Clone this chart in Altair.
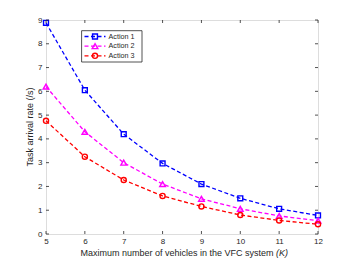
import altair as alt
import pandas as pd

K = [5, 6, 7, 8, 9, 10, 11, 12]
action1 = [8.88, 6.05, 4.20, 2.97, 2.10, 1.50, 1.06, 0.78]
action2 = [6.20, 4.30, 3.00, 2.10, 1.48, 1.06, 0.76, 0.56]
action3 = [4.76, 3.25, 2.27, 1.60, 1.16, 0.80, 0.57, 0.41]
series_names = ["Action 1", "Action 2", "Action 3"]
series_colors = ["#0000FF", "#FF00FF", "#FF0000"]
series_shapes = ["square", "triangle-up", "circle"]
x_ticks = [5, 6, 7, 8, 9, 10, 11, 12]
y_ticks = [0, 1, 2, 3, 4, 5, 6, 7, 8, 9]
x_title = "Maximum number of vehicles in the VFC system"
x_title_var = "(K)"
y_title = "Task arrival rate (/s)"

W, H = 272, 214
FONT = "Liberation Sans"
AX = "#262626"

rows = []
for name, vals in zip(series_names, [action1, action2, action3]):
    for k, v in zip(K, vals):
        rows.append({"K": k, "rate": v, "series": name})
df = pd.DataFrame(rows)

xs = alt.Scale(domain=[5, 12], nice=False, zero=False)
ys = alt.Scale(domain=[0, 9], nice=False, zero=True)

axis_common = dict(title=None, ticks=False, tickSize=0, domain=False, grid=False,
                   labelFont=FONT, labelFontSize=8, labelColor=AX, labelOverlap=False,
                   labelFlush=False, format="d")
x_axis = alt.Axis(values=x_ticks, labelPadding=3, **axis_common)
y_axis = alt.Axis(values=y_ticks, labelPadding=4, **axis_common)


def X():
    return alt.X("K:Q", scale=xs, axis=x_axis)


def Y():
    return alt.Y("rate:Q", scale=ys, axis=y_axis)


base = alt.Chart(df)
layers = []

MSIZE = {"square": 24, "triangle-up": 32, "circle": 26}

for name, color, shape in zip(series_names, series_colors, series_shapes):
    sub = base.transform_filter(alt.datum.series == name)
    layers.append(sub.mark_line(color=color, strokeWidth=1.3, strokeDash=[4, 2.5]).encode(x=X(), y=Y()))
    layers.append(sub.mark_point(color=color, shape=shape, filled=False, strokeWidth=1.4,
                                 size=MSIZE[shape], opacity=1).encode(x=X(), y=Y()))

# inward ticks
xt = alt.Chart(pd.DataFrame({"K": x_ticks}))
yt = alt.Chart(pd.DataFrame({"rate": y_ticks}))
layers.append(xt.mark_rule(color=AX, strokeWidth=0.8).encode(
    x=X(), y=alt.value(H), y2=alt.value(H - 3)))
layers.append(xt.mark_rule(color=AX, strokeWidth=0.8).encode(
    x=X(), y=alt.value(0), y2=alt.value(3)))
layers.append(yt.mark_rule(color=AX, strokeWidth=0.8).encode(
    y=Y(), x=alt.value(0), x2=alt.value(3)))
layers.append(yt.mark_rule(color=AX, strokeWidth=0.8).encode(
    y=Y(), x=alt.value(W), x2=alt.value(W - 3)))

# titles
layers.append(alt.Chart(pd.DataFrame({"t": [x_title]})).mark_text(
    font=FONT, fontSize=9, color=AX, align="right", baseline="alphabetic").encode(
    text="t:N", x=alt.value(227.5), y=alt.value(236)))
layers.append(alt.Chart(pd.DataFrame({"t": [x_title_var]})).mark_text(
    font=FONT, fontSize=9, color=AX, fontStyle="italic", align="left", baseline="alphabetic").encode(
    text="t:N", x=alt.value(230), y=alt.value(236)))
layers.append(alt.Chart(pd.DataFrame({"t": [y_title]})).mark_text(
    font=FONT, fontSize=9, color=AX, angle=270, align="center", baseline="middle").encode(
    text="t:N", x=alt.value(-16), y=alt.value(H / 2)))

# legend
lx0, lx1, ly0, ly1 = 35.6, 96, 10.7, 42
layers.append(alt.Chart(pd.DataFrame({"a": [0]})).mark_rect(
    fill="white", stroke=AX, strokeWidth=0.8).encode(
    x=alt.value(lx0), x2=alt.value(lx1), y=alt.value(ly0), y2=alt.value(ly1)))
row_y = [16.5, 26.2, 35.8]
for name, color, shape, yy in zip(series_names, series_colors, series_shapes, row_y):
    one = alt.Chart(pd.DataFrame({"t": [name]}))
    layers.append(one.mark_rule(color=color, strokeWidth=1.3, strokeDash=[4, 2.5]).encode(
        x=alt.value(38.5), x2=alt.value(59.5), y=alt.value(yy)))
    layers.append(one.mark_point(color=color, shape=shape, filled=False, strokeWidth=1.4,
                                 size=MSIZE[shape], opacity=1).encode(
        x=alt.value(49), y=alt.value(yy)))
    layers.append(one.mark_text(font=FONT, fontSize=7.2, color=AX, align="left", baseline="middle").encode(
        text="t:N", x=alt.value(62.5), y=alt.value(yy)))

chart = alt.layer(*layers).properties(
    width=W, height=H,
    autosize=alt.AutoSizeParams(type="none"),
    padding={"left": 38, "top": 12, "right": 24, "bottom": 27},
).configure_view(stroke=AX, strokeWidth=0.9).configure(background="white")

chart.save("out.html", embed_options={"renderer": "svg", "actions": False})
